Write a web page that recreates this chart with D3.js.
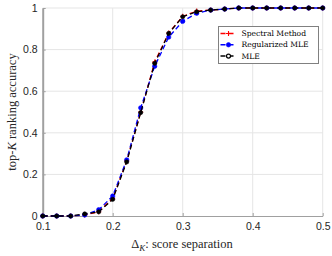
<!DOCTYPE html>
<html>
<head>
<meta charset="utf-8">
<script src="https://cdn.jsdelivr.net/npm/d3@7"></script>
<style>
  body { margin: 0; background: #fff; }
  svg { display: block; }
</style>
</head>
<body>
<div id="chart"></div>
<script>
// score separation values
const deltas = [0.1, 0.12, 0.14, 0.16, 0.18, 0.2, 0.22, 0.24, 0.26, 0.28, 0.3, 0.32, 0.34, 0.36, 0.38, 0.4, 0.42, 0.44, 0.46, 0.48, 0.5];
const spectral = [0, 0, 0, 0.005, 0.02, 0.085, 0.265, 0.5, 0.74, 0.88, 0.96, 0.985, 0.99, 0.995, 1, 1, 1, 1, 1, 1, 1];
const regMLE = [0, 0, 0, 0.005, 0.03, 0.096, 0.27, 0.52, 0.72, 0.86, 0.936, 0.975, 0.99, 0.995, 1, 1, 1, 1, 1, 1, 1];
const mle = [0, 0, 0, 0.01, 0.02, 0.08, 0.26, 0.497, 0.734, 0.878, 0.958, 0.982, 0.99, 0.995, 1, 1, 1, 1, 1, 1, 1];
const xTicks = [0.1, 0.2, 0.3, 0.4, 0.5];
const yTicks = [0, 0.2, 0.4, 0.6, 0.8, 1];
const seriesNames = ["Spectral Method", "Regularized MLE", "MLE"];

const width = 332, height = 256;
const svg = d3.select("#chart").append("svg")
    .attr("width", width)
    .attr("height", height);

const x = d3.scaleLinear().domain([0.1, 0.5]).range([42.7, 322.7]);
const y = d3.scaleLinear().domain([0, 1]).range([216, 8]);

// grid
svg.append("g")
    .selectAll("line")
    .data(xTicks.slice(1))
    .join("line")
    .attr("x1", d => x(d)).attr("x2", d => x(d))
    .attr("y1", y(0)).attr("y2", y(1))
    .attr("stroke", "#e5e5e5").attr("stroke-width", 1);
svg.append("g")
    .selectAll("line")
    .data(yTicks.slice(1))
    .join("line")
    .attr("x1", x(0.1)).attr("x2", x(0.5))
    .attr("y1", d => y(d)).attr("y2", d => y(d))
    .attr("stroke", "#e5e5e5").attr("stroke-width", 1);

// axes
const xAxis = svg.append("g")
    .attr("transform", `translate(0,${y(0)})`)
    .call(d3.axisBottom(x).tickValues(xTicks).tickFormat(d3.format("")).tickSizeInner(-3).tickSizeOuter(0).tickPadding(7));
const yAxis = svg.append("g")
    .attr("transform", `translate(${x(0.1)},0)`)
    .call(d3.axisLeft(y).tickValues(yTicks).tickFormat(d3.format("")).tickSizeInner(-3).tickSizeOuter(0).tickPadding(5));

[xAxis, yAxis].forEach(a => {
    a.select(".domain").attr("stroke", "#a0a0a0").attr("stroke-width", 1.2);
    a.selectAll(".tick line").attr("stroke", "#a0a0a0");
    a.selectAll(".tick text")
        .attr("fill", "#262626")
        .style("font-family", "'Liberation Sans', Arial, sans-serif")
        .style("font-size", "10.5px");
});
yAxis.select(".domain").attr("stroke-width", 2);

// series
const series = [
    { name: seriesNames[0], values: spectral, color: "#ff0000", marker: "plus" },
    { name: seriesNames[1], values: regMLE, color: "#0000ff", marker: "dot" },
    { name: seriesNames[2], values: mle, color: "#000000", marker: "circle" }
];

const line = d3.line()
    .x(d => x(d[0]))
    .y(d => y(d[1]));

function drawMarker(g, kind, color, cx, cy) {
    if (kind === "plus") {
        g.append("path")
            .attr("d", `M${cx - 2.5},${cy}H${cx + 2.5}M${cx},${cy - 2.5}V${cy + 2.5}`)
            .attr("stroke", color).attr("stroke-width", 1.1).attr("fill", "none");
    } else if (kind === "dot") {
        g.append("circle").attr("cx", cx).attr("cy", cy).attr("r", 2.2)
            .attr("fill", color).attr("stroke", color).attr("stroke-width", 0.6);
    } else {
        g.append("circle").attr("cx", cx).attr("cy", cy).attr("r", 2.1)
            .attr("fill", "#000").attr("stroke", "#000").attr("stroke-width", 0.6);
    }
}

series.forEach(s => {
    const pts = deltas.map((d, i) => [d, s.values[i]]);
    const g = svg.append("g");
    g.append("path")
        .datum(pts)
        .attr("d", line)
        .attr("fill", "none")
        .attr("stroke", s.color)
        .attr("stroke-width", 1.3)
        .attr("stroke-dasharray", "5,3");
    pts.forEach(p => drawMarker(g, s.marker, s.color, x(p[0]), y(p[1])));
});

// legend
const lg = svg.append("g");
lg.append("rect")
    .attr("x", 218.5).attr("y", 26.5)
    .attr("width", 100).attr("height", 37)
    .attr("fill", "#fff").attr("stroke", "#808080").attr("stroke-width", 1);
series.forEach((s, i) => {
    const ly = 33.5 + i * 11.3;
    lg.append("line")
        .attr("x1", 220.5).attr("x2", 236.5)
        .attr("y1", ly).attr("y2", ly)
        .attr("stroke", s.color).attr("stroke-width", 1.5)
        .attr("stroke-dasharray", "5,3");
    if (s.marker === "circle") {
        lg.append("circle").attr("cx", 228.5).attr("cy", ly).attr("r", 2)
            .attr("fill", "#fff").attr("stroke", "#000").attr("stroke-width", 1.2);
    } else {
        drawMarker(lg, s.marker, s.color, 228.5, ly);
    }
    lg.append("text")
        .attr("x", 241.5).attr("y", ly)
        .attr("dy", "0.35em")
        .style("font-family", "'DejaVu Serif', 'Liberation Serif', serif")
        .style("font-size", "7.6px")
        .attr("fill", "#000")
        .text(s.name);
});

// axis labels
const ylab = svg.append("text")
    .attr("transform", `translate(16,${(y(0) + y(1)) / 2}) rotate(-90)`)
    .attr("text-anchor", "middle")
    .style("font-family", "'Liberation Serif', 'DejaVu Serif', serif")
    .style("font-size", "12.5px")
    .attr("fill", "#262626");
ylab.append("tspan").text("top-");
ylab.append("tspan").style("font-style", "italic").text("K");
ylab.append("tspan").text(" ranking accuracy");

const xlab = svg.append("text")
    .attr("x", 182).attr("y", 248)
    .attr("text-anchor", "middle")
    .style("font-family", "'Liberation Serif', 'DejaVu Serif', serif")
    .style("font-size", "12.5px")
    .attr("fill", "#262626");
xlab.append("tspan").text("Δ");
xlab.append("tspan").style("font-style", "italic").style("font-size", "9px").attr("dy", 3).text("K");
xlab.append("tspan").attr("dy", -3).text(": score separation");
</script>
</body>
</html>
